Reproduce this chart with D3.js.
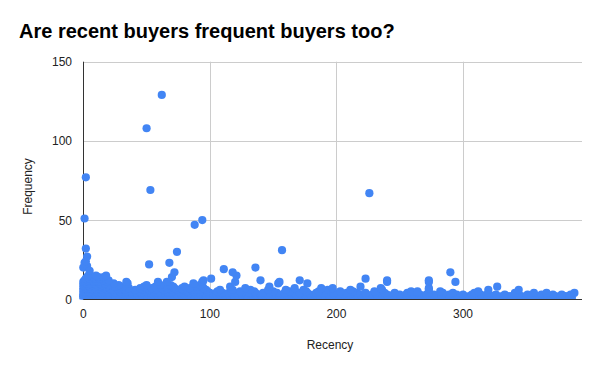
<!DOCTYPE html>
<html>
<head>
<meta charset="utf-8">
<script src="https://d3js.org/d3.v7.min.js"></script>
<style>
  body { margin: 0; background: #fff; }
  text { font-family: Arial, "Liberation Sans", sans-serif; }
</style>
</head>
<body>
<div id="chart"></div>
<script>
var chartTitle = 'Are recent buyers frequent buyers too?';
var xTicks = [0, 100, 200, 300];
var yTicks = [0, 50, 100, 150];

// recency values of customers, grouped by their frequency
var recencyF1 = [0,2,5,7,10,13,15,18,21,23,26,29,31,34,37,40,42,45,48,51,53,56,59,62,64,67,70,73,75,78,81,84,86,89,92,95,98,100,103,106,109,111,114,117,120,123,125,128,131,134,137,139,142,145,148,151,153,156,159,162,165,168,170,173,176,179,182,185,188,190,193,196,199,202,205,208,211,213,216,219,222,225,228,231,234,236,239,242,245,248,251,254,257,260,263,266,269,272,275,278,281,284,287,290,293,296,299,302,305,308,311,314,317,320,323,326,329,332,335,338,341,344,347,350,353,356,359,362,365,368,371,374,377,380,383,386];
var recencyF2 = [0,3,6,8,11,14,17,19,22,25,28,32,35,38,41,44,47,50,54,57,60,63,66,69,72,76,79,82,85,88,91,94,97,101,104,107,110,113,116,119,122,126,129,132,135,138,141,144,147,150,154,157,160,163,166,169,172,175,178,181,184,187,191,194,197,200,204,207,210,214,217,220,224,227,230,233,237,241,244,247,250,253,256,259,262,265,268,271,274,277,280,283,286,289,292,295,298,301,305,309,313,316,319,323,327,331,335,338,342,346,350,354,358,361,365,369,373,377,381,384];
var recencyF3 = [0,2,4,7,9,12,16,20,24,27,30,33,36,40,43,46,49,52,55,58,61,65,68,71,74,77,80,83,87,90,93,96,99,102,105,108,112,115,118,122,125,129,133,136,140,143,146,150,154,158,161,164,168,172,175,179,183,186,190,194,198,202,206,210,215,219,223,228,232,236,240,245,250,255,260,266,271,277,283,289,295,300,307,314,319,326,333,344,351,362,371,378,385];
var recencyF4 = [1,3,6,9,12,15,18,22,26,30,34,38,42,46,51,55,59,63,67,71,75,79,83,88,92,96,100,105,110,115,120,125,131,136,142,148,153,159,165,171,177,184,190,198,208,216,223,231,238,246,256,264,273,284,292,309,320,341,356,366,388];
var recencyF5 = [0,2,4,7,10,13,16,20,24,29,34,38,44,49,55,60,66,70,76,82,87,93,98,106,117,124,135,150,163,176,186,203,213,230,259,264,282,312];
var recencyF6 = [1,3,5,8,11,14,19,23,28,33,41,47,52,57,64,69,74,79,86,91,97,108,118,132,146,160,174,193,211,236,273,320,344];
var recencyF7 = [0,2,4,6,9,12,17,21,27,36,45,54,62,67,72,78,84,95,128,167,188,197,235,273];
var recencyF8 = [1,3,5,8,10,14,18,25,31,48,57,65,71,80,90,116,147,219,327];
var recencyF9 = [0,2,4,7,11,15,20,28,50,61,69,92];
var recencyF10 = [1,3,6,9,13,17,24,35,87,94,154,177];
var recencyF11 = [0,2,5,8,12,19,34,59,66,94,120,155,240,273,294];
var recencyF12 = [1,4,7,10,16,20,95,140,171,240,273];
var recencyF13 = [2,5,9,13,101,223];
var recencyF14 = [3,8,12,16,70];
var recencyF15 = [4,10,18,121];

// the few very frequent buyers [recency, frequency]
var highBuyers = [
  [62,129],[50,108],[53,69],[2,77],[1,51],[226,67],[94,50],[88,47],[157,31],
  [2,32],[3,27],[1,23],[0,20],[3,21],[5,18],[2,24],[52,22],[68,23],[74,30],
  [72,17],[111,19],[118,17],[136,20],[290,17]
];

var byFrequency = [recencyF1, recencyF2, recencyF3, recencyF4, recencyF5, recencyF6, recencyF7, recencyF8,
  recencyF9, recencyF10, recencyF11, recencyF12, recencyF13, recencyF14, recencyF15];

var points = [];
byFrequency.forEach(function(list, i) {
  list.forEach(function(r) { points.push({ recency: r, frequency: i + 1 }); });
});
highBuyers.forEach(function(p) { points.push({ recency: p[0], frequency: p[1] }); });

var width = 600, height = 371;

var svg = d3.select('#chart').append('svg')
  .attr('width', width)
  .attr('height', height);

var x = d3.scaleLinear().domain([0, 394]).range([83.3, 582]);
var y = d3.scaleLinear().domain([0, 150]).range([299.3, 61.7]);

// title
svg.append('text')
  .attr('x', 19)
  .attr('y', 38)
  .style('font-size', '20px')
  .style('font-weight', 'bold')
  .style('fill', '#000')
  .text(chartTitle);

// gridlines
svg.append('g').selectAll('line').data(yTicks.slice(1)).enter().append('line')
  .attr('x1', x(0)).attr('x2', x.range()[1])
  .attr('y1', function(d) { return Math.round(y(d)) + 0.5; })
  .attr('y2', function(d) { return Math.round(y(d)) + 0.5; })
  .style('stroke', '#cccccc');
svg.append('g').selectAll('line').data(xTicks.slice(1)).enter().append('line')
  .attr('x1', function(d) { return Math.round(x(d)) + 0.5; })
  .attr('x2', function(d) { return Math.round(x(d)) + 0.5; })
  .attr('y1', y.range()[1]).attr('y2', y(0))
  .style('stroke', '#cccccc');

// y axis line
svg.append('line')
  .attr('x1', 83.5).attr('x2', 83.5)
  .attr('y1', y.range()[1]).attr('y2', y(0))
  .style('stroke', '#333');

// points, clipped at the baseline
svg.append('clipPath').attr('id', 'clip')
  .append('rect').attr('x', 60).attr('y', 40).attr('width', 540).attr('height', 299.5 - 40);

svg.append('g').attr('clip-path', 'url(#clip)')
  .selectAll('circle').data(points).enter().append('circle')
  .attr('cx', function(d) { return x(d.recency); })
  .attr('cy', function(d) { return y(d.frequency); })
  .attr('r', 4.1)
  .style('fill', '#4285f4');

// baseline
svg.append('line')
  .attr('x1', x(0)).attr('x2', x.range()[1])
  .attr('y1', 299.5).attr('y2', 299.5)
  .style('stroke', '#333');

// tick labels
svg.append('g').selectAll('text').data(yTicks).enter().append('text')
  .attr('x', 72)
  .attr('y', function(d) { return y(d) + 4.5; })
  .attr('text-anchor', 'end')
  .style('font-size', '12px')
  .style('fill', '#222')
  .text(function(d) { return d; });
svg.append('g').selectAll('text').data(xTicks).enter().append('text')
  .attr('x', function(d) { return x(d); })
  .attr('y', 317.5)
  .attr('text-anchor', 'middle')
  .style('font-size', '12px')
  .style('fill', '#222')
  .text(function(d) { return d; });

// axis titles
svg.append('text')
  .attr('x', 330)
  .attr('y', 349)
  .attr('text-anchor', 'middle')
  .style('font-size', '12px')
  .style('fill', '#222')
  .text('Recency');
svg.append('text')
  .attr('transform', 'translate(31.5,186.5) rotate(-90)')
  .attr('text-anchor', 'middle')
  .style('font-size', '12px')
  .style('fill', '#222')
  .text('Frequency');
</script>
</body>
</html>
